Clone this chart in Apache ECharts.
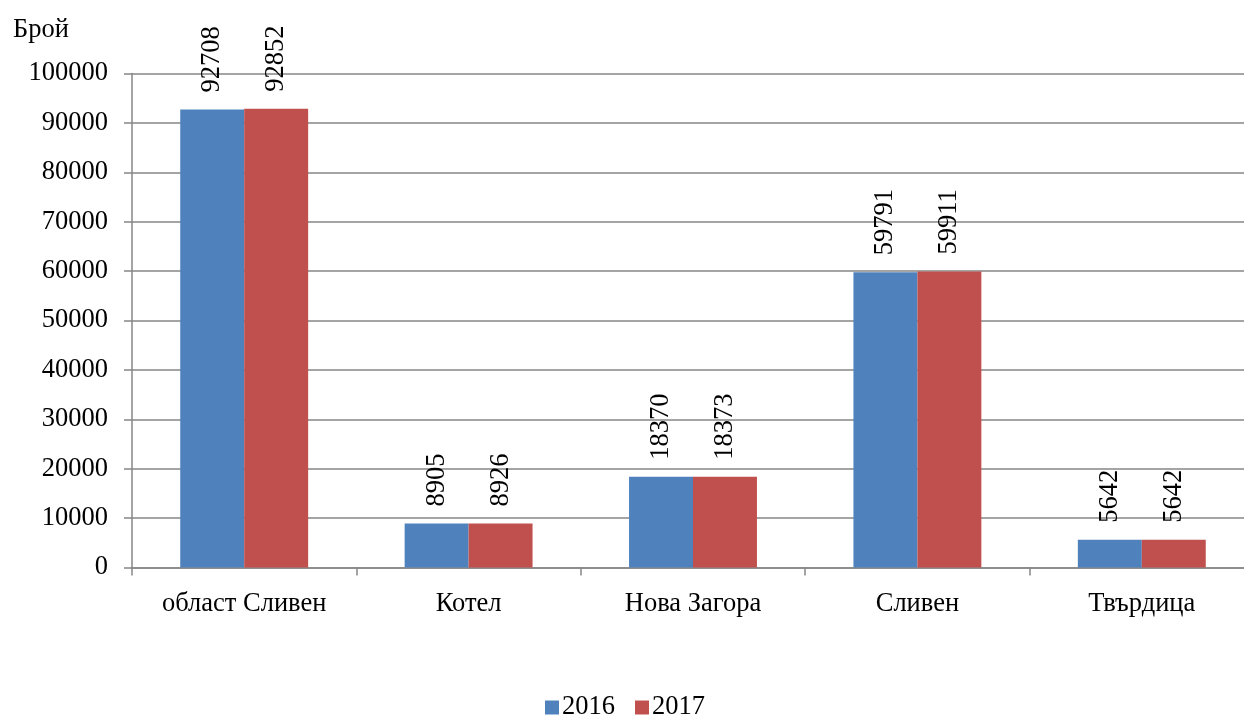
<!DOCTYPE html>
<html>
<head>
<meta charset="utf-8">
<script src="https://cdn.jsdelivr.net/npm/echarts@6/dist/echarts.min.js"></script>
<style>
html,body{margin:0;padding:0;background:#fff;overflow:hidden;width:1244px;height:715px;}
#chart{width:1254px;height:715px;}
</style>
</head>
<body>
<div id="chart"></div>
<script>
const categories = ['област Сливен', 'Котел', 'Нова Загора', 'Сливен', 'Твърдица'];
const values2016 = [92708, 8905, 18370, 59791, 5642];
const values2017 = [92852, 8926, 18373, 59911, 5642];
const seriesNames = ['2016', '2017'];
const yUnit = 'Брой';

const FONT = '"Liberation Serif", "Times New Roman", serif';
const FS = 26.5;
const chart = echarts.init(document.getElementById('chart'));

const labelCfg = {
  show: true,
  position: 'top',
  rotate: 90,
  align: 'left',
  verticalAlign: 'middle',
  distance: 17,
  fontFamily: FONT,
  fontSize: FS,
  color: '#000'
};

chart.setOption({
  animation: false,
  textStyle: { fontFamily: FONT },
  title: {
    text: yUnit,
    left: 8,
    top: 12,
    textStyle: { fontFamily: FONT, fontSize: FS, fontWeight: 'normal', color: '#000' }
  },
  legend: {
    top: 689,
    left: 540,
    itemWidth: 14,
    itemHeight: 14,
    itemGap: 20,
    icon: 'rect',
    textStyle: { fontFamily: FONT, fontSize: FS, color: '#000', padding: [0, 0, 0, -2] },
    data: seriesNames
  },
  grid: { left: 132, top: 73.5, right: 0, bottom: 715 - 567.5, containLabel: false },
  xAxis: {
    type: 'category',
    data: categories,
    axisLine: { lineStyle: { color: '#868686', width: 1.5 } },
    axisTick: { show: true, length: 8, lineStyle: { color: '#868686', width: 1.5 } },
    axisLabel: { fontFamily: FONT, fontSize: FS, color: '#000', margin: 23 }
  },
  yAxis: {
    type: 'value',
    min: 0,
    max: 100000,
    interval: 10000,
    axisLine: { show: true, lineStyle: { color: '#868686', width: 1.5 } },
    axisTick: { show: true, length: 8, lineStyle: { color: '#868686', width: 1.5 } },
    splitLine: { lineStyle: { color: '#868686', width: 1.5 } },
    axisLabel: { fontFamily: FONT, fontSize: FS, color: '#000', margin: 24, formatter: v => String(v) }
  },
  series: [
    {
      name: seriesNames[0],
      type: 'bar',
      data: values2016,
      barGap: '0%',
      barCategoryGap: '43%',
      itemStyle: { color: '#4F81BD' },
      label: labelCfg
    },
    {
      name: seriesNames[1],
      type: 'bar',
      data: values2017,
      barGap: '0%',
      barCategoryGap: '43%',
      itemStyle: { color: '#C0504D' },
      label: labelCfg
    }
  ]
});
</script>
</body>
</html>
